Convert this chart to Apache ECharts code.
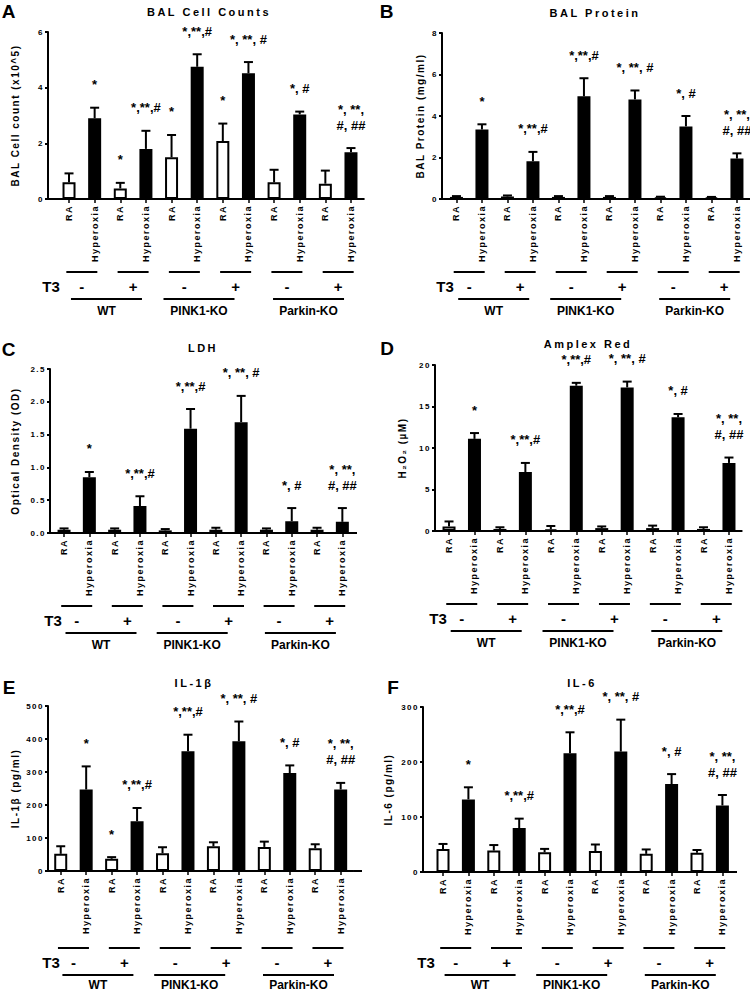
<!DOCTYPE html>
<html><head><meta charset="utf-8">
<script src="https://cdn.jsdelivr.net/npm/echarts@6/dist/echarts.min.js"></script>
<style>
html,body{margin:0;padding:0;background:#fff;}
#c{width:750px;height:992px;}
text[style*="lsT"]{letter-spacing:2.5px;}
text[style*="lsA"]{letter-spacing:1.5px;}
</style></head><body><div id="c"></div>
<script>
// ---------- data ----------
const categories = ['RA','Hyperoxia','RA','Hyperoxia','RA','Hyperoxia','RA','Hyperoxia','RA','Hyperoxia','RA','Hyperoxia'];
const t3Labels = ['-','+','-','+','-','+'];
const groupLabels = ['WT','PINK1-KO','Parkin-KO'];

const balCellMean = [0.6, 2.9, 0.38, 1.8, 1.5, 4.75, 2.08, 4.52, 0.6, 3.04, 0.55, 1.68];
const balCellErr  = [0.32, 0.38, 0.2, 0.65, 0.8, 0.45, 0.63, 0.4, 0.45, 0.1, 0.47, 0.15];

const balProtMean = [0.1, 3.35, 0.12, 1.82, 0.1, 4.95, 0.1, 4.8, 0.08, 3.5, 0.07, 1.95];
const balProtErr  = [0.04, 0.25, 0.05, 0.45, 0.04, 0.87, 0.04, 0.43, 0.03, 0.5, 0.03, 0.25];

const ldhMean = [0.05, 0.85, 0.05, 0.41, 0.04, 1.59, 0.05, 1.69, 0.05, 0.18, 0.05, 0.17];
const ldhErr  = [0.02, 0.08, 0.02, 0.15, 0.02, 0.3, 0.03, 0.4, 0.02, 0.2, 0.03, 0.21];

const amplexMean = [0.55, 11.1, 0.25, 7.1, 0.2, 17.5, 0.35, 17.3, 0.35, 13.7, 0.25, 8.2];
const amplexErr  = [0.6, 0.7, 0.2, 1.1, 0.4, 0.35, 0.2, 0.7, 0.3, 0.4, 0.2, 0.65];

const il1bMean = [52, 247, 37, 151, 54, 363, 75, 393, 73, 297, 69, 247];
const il1bErr  = [23, 70, 5, 40, 18, 50, 12, 60, 16, 23, 12, 20];

const il6Mean = [42, 132, 39, 80, 36, 216, 38, 219, 33, 160, 35, 121];
const il6Err  = [9, 22, 10, 17, 6, 38, 12, 58, 8, 18, 5, 19];

const sigStd = ['', '*', '', '*,**,#', '', '*,**,#', '', '*, **, #', '', '*, #', '', '*, **,\n#, ##'];
const sigA   = ['', '*', '*', '*,**,#', '*', '*,**,#', '*', '*, **, #', '', '*, #', '', '*, **,\n#, ##'];
const sigE   = ['', '*', '*', '*,**,#', '', '*,**,#', '', '*, **, #', '', '*, #', '', '*, **,\n#, ##'];

// ---------- layout ----------
const FS = "'Liberation Sans', Arial, sans-serif";
const FT = "'Liberation Sans', lsT, sans-serif";
const FA = "'Liberation Sans', lsA, sans-serif";

const panels = [
  {letter:'A', title:'BAL Cell Counts', yName:'BAL Cell count (x10^5)', mean:balCellMean, err:balCellErr, sig:sigA, max:6, step:2, dec:0,
   axisX:48, gridL:56.2, gridR:363.8, axisEnd:363, top:32, zero:199, nameGap:28, annoOff:73, grpTxt:39, titleXY:[209,12], letterXY:[8.5,11]},
  {letter:'B', title:'BAL Protein', yName:'BAL Protein (mg/ml)', mean:balProtMean, err:balProtErr, sig:sigStd, max:8, step:2, dec:0,
   axisX:442, gridL:443.7, gridR:749.7, axisEnd:750, top:33, zero:199, nameGap:17, annoOff:73, grpTxt:39, titleXY:[595,13], letterXY:[386.5,11]},
  {letter:'C', title:'LDH', yName:'Optical Density (OD)', mean:ldhMean, err:ldhErr, sig:sigStd, max:2.5, step:0.5, dec:1,
   axisX:50, gridL:51.4, gridR:355, axisEnd:357, top:369, zero:533, nameGap:30, annoOff:73, grpTxt:39, titleXY:[203,348], letterXY:[8.5,349.5]},
  {letter:'D', title:'Amplex Red', yName:'H\u2082O\u2082 (\u00B5M)', mean:amplexMean, err:amplexErr, sig:sigStd, max:20, step:5, dec:0,
   axisX:435, gridL:436.3, gridR:741.7, axisEnd:742, top:365, zero:531, nameGap:28, annoOff:73, grpTxt:39, titleXY:[588,344], letterXY:[387,348]},
  {letter:'E', title:'IL-1\u03B2', yName:'IL-1\u03B2 (pg/ml)', mean:il1bMean, err:il1bErr, sig:sigE, max:500, step:100, dec:0,
   axisX:48, gridL:48, gridR:353.4, axisEnd:362, top:706, zero:871, nameGap:28, annoOff:77, grpTxt:37, titleXY:[194,683], letterXY:[9,687]},
  {letter:'F', title:'IL-6', yName:'IL-6 (pg/ml)', mean:il6Mean, err:il6Err, sig:sigStd, max:300, step:100, dec:0,
   axisX:423, gridL:430.3, gridR:735.1, axisEnd:737, top:707, zero:872, nameGap:30, annoOff:76, grpTxt:37, titleXY:[582,683], letterXY:[393,687]}
];
const groupShift = [-1, -11, -4];

const chart = echarts.init(document.getElementById('c'), null, {renderer:'svg'});

const grids = [], xAxes = [], yAxes = [], series = [];
panels.forEach((p, i) => {
  grids.push({left:p.gridL, top:p.top, width:p.gridR - p.gridL, height:p.zero - p.top, outerBoundsMode:'none', containLabel:false});
  xAxes.push({
    type:'category', gridIndex:i, data:categories,
    axisLine:{show:true, lineStyle:{color:'#000', width:2}},
    axisTick:{show:true, alignWithLabel:true, interval:0, length:4, lineStyle:{color:'#000', width:1.5}},
    axisLabel:{rotate:90, interval:0, margin:6, color:'#000', fontFamily:FA, fontWeight:'bold', fontSize:9},
    splitLine:{show:false}
  });
  yAxes.push({
    type:'value', gridIndex:i, min:0, max:p.max, interval:p.step, offset:p.gridL - p.axisX,
    axisLine:{show:true, lineStyle:{color:'#000', width:2}},
    axisTick:{show:true, length:3, lineStyle:{color:'#000', width:2}},
    splitLine:{show:false},
    axisLabel:{margin:4, color:'#000', fontFamily:FA, fontWeight:'bold', fontSize:8,
      formatter: v => v.toFixed(p.dec)},
    name:p.yName, nameLocation:'middle', nameGap:p.nameGap,
    nameTextStyle:{color:'#000', fontFamily:FA, fontWeight:'bold', fontSize:10}
  });
  series.push({
    type:'bar', xAxisIndex:i, yAxisIndex:i, barWidth:13, animation:false,
    data:p.mean.map((v, k) => ({value:v, itemStyle:{color: k % 2 ? '#000' : '#fff'}})),
    itemStyle:{borderColor:'#000', borderWidth:2}
  });
  const sig = p.sig;
  series.push({
    type:'custom', xAxisIndex:i, yAxisIndex:i, z:5, animation:false,
    data:p.mean.map((v, k) => [k, v, p.err[k]]),
    encode:{x:0, y:1},
    renderItem:(params, api) => {
      const k = api.value(0), m = api.value(1), e = api.value(2);
      const p0 = api.coord([k, m]), p1 = api.coord([k, m + e]);
      const children = [
        {type:'line', shape:{x1:p0[0], y1:p0[1], x2:p1[0], y2:p1[1]}, style:{stroke:'#000', lineWidth:2}},
        {type:'line', shape:{x1:p1[0] - 4.5, y1:p1[1], x2:p1[0] + 4.5, y2:p1[1]}, style:{stroke:'#000', lineWidth:2}}
      ];
      const lab = sig[params.dataIndex];
      if (lab) {
        children.push({type:'text', x:p1[0], y:p1[1] - 15,
          style:{text:lab, fill:'#000', font:'bold 13px ' + FS, lineHeight:16,
                 textAlign:'center', align:'center', textVerticalAlign:'bottom', verticalAlign:'bottom'}});
      }
      return {type:'group', children};
    }
  });
});

chart.setOption({
  animation:false,
  grid:grids, xAxis:xAxes, yAxis:yAxes, series:series
});

// ---------- annotations computed from the axes ----------
const gfx = [];
function txt(x, y, text, font, align) {
  gfx.push({type:'text', x, y, silent:true,
    style:{text, fill:'#000', font, textAlign:align || 'center', align:align || 'center',
           textVerticalAlign:'middle', verticalAlign:'middle'}});
}
function ln(x1, y1, x2, y2, w) {
  gfx.push({type:'line', silent:true, shape:{x1, y1, x2, y2}, style:{stroke:'#000', lineWidth:w || 2}});
}
panels.forEach((p, i) => {
  const px = k => chart.convertToPixel({xAxisIndex:i, yAxisIndex:i}, [k, 0]);
  const zeroY = px(0)[1];
  const x0 = px(0)[0] - (px(1)[0] - px(0)[0]) / 2;
  const x11 = px(11)[0] + (px(1)[0] - px(0)[0]) / 2;
  if (x0 > p.axisX) ln(p.axisX - 1, zeroY, x0, zeroY, 2);
  if (p.axisEnd > x11) ln(x11, zeroY, p.axisEnd, zeroY, 2);
  txt(p.letterXY[0], p.letterXY[1], p.letter, 'bold 19px ' + FS);
  txt(p.titleXY[0], p.titleXY[1], p.title, 'bold 11px ' + FT);
  const yPair = zeroY + p.annoOff, yT3 = yPair + 14, yGrp = yPair + 27, yGrpT = yPair + p.grpTxt;
  txt(p.axisX + 3, yT3, 'T3', 'bold 15px ' + FS);
  for (let j = 0; j < 6; j++) {
    const c = (px(2 * j)[0] + px(2 * j + 1)[0]) / 2;
    ln(c - 15.5, yPair, c + 15.5, yPair, 2);
    txt(c, yT3, t3Labels[j], 'bold 15px ' + FS);
  }
  for (let g = 0; g < 3; g++) {
    const c = (px(4 * g)[0] + px(4 * g + 3)[0]) / 2 + groupShift[g];
    ln(c - 35.5, yGrp, c + 35.5, yGrp, 2);
    txt(c, yGrpT, groupLabels[g], 'bold 12px ' + FS);
  }
});
chart.setOption({graphic:{elements:gfx}});
</script></body></html>
